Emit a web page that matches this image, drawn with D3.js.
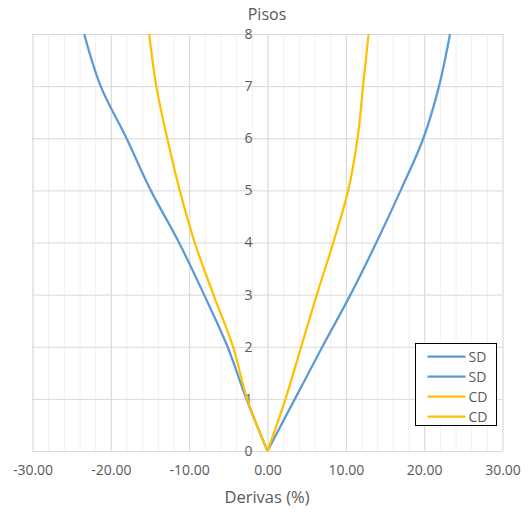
<!DOCTYPE html>
<html>
<head>
<meta charset="utf-8">
<script src="https://cdn.jsdelivr.net/npm/d3@7"></script>
<style>
  html, body { margin: 0; padding: 0; background: #fff; }
  svg { display: block; }
  text { font-family: "Open Sans", "Noto Sans", sans-serif; fill: #595959; }
</style>
</head>
<body>
<svg id="chart" width="528" height="514"></svg>
<script>
// Storey levels and inter-storey drift (%) per direction
const floors = [0, 1, 2, 3, 4, 5, 6, 7, 8];
const sdPos = [0, 3.5, 7.0, 10.6, 13.9, 17.0, 19.9, 21.9, 23.3];
const sdNeg = [0, -2.7, -5.1, -8.1, -11.3, -14.9, -18.0, -21.3, -23.4];
const cdPos = [0, 2.3, 4.3, 6.3, 8.4, 10.3, 11.5, 12.2, 12.9];
const cdNeg = [0, -2.6, -4.4, -6.9, -9.3, -11.2, -12.8, -14.2, -15.1];

const xTicks = [-30, -20, -10, 0, 10, 20, 30];
const xMinorTicks = d3.range(-30, 30.01, 2);
const yTicks = [0, 1, 2, 3, 4, 5, 6, 7, 8];

const seriesNames = ["SD", "SD", "CD", "CD"];
const seriesValues = [sdPos, sdNeg, cdPos, cdNeg];
const seriesColors = ["#5b9bd5", "#5b9bd5", "#ffc000", "#ffc000"];

const svg = d3.select("#chart");
const plotLeft = 32.5, plotRight = 502.5, plotTop = 34, plotBottom = 451;

const x = d3.scaleLinear().domain([-30, 30]).range([plotLeft, plotRight]);
const y = d3.scaleLinear().domain([0, 8]).range([plotBottom, plotTop]);

// two decimals, plain hyphen for negatives
const fmtX = d => d3.format(".2f")(d).replace("\u2212", "-");

// minor vertical gridlines
svg.append("g")
  .attr("transform", `translate(0,${plotBottom})`)
  .call(d3.axisBottom(x).tickValues(xMinorTicks).tickSize(-(plotBottom - plotTop)).tickFormat(""))
  .call(g => g.select(".domain").remove())
  .call(g => g.selectAll("line").attr("stroke", "#f0f0f0").attr("stroke-width", 1));

// major vertical gridlines
svg.append("g")
  .attr("transform", `translate(0,${plotBottom})`)
  .call(d3.axisBottom(x).tickValues(xTicks).tickSize(-(plotBottom - plotTop)).tickFormat(""))
  .call(g => g.select(".domain").remove())
  .call(g => g.selectAll("line").attr("stroke", "#d9d9d9").attr("stroke-width", 1));

// horizontal gridlines
svg.append("g")
  .attr("transform", `translate(${plotLeft},0)`)
  .call(d3.axisLeft(y).tickValues(yTicks).tickSize(-(plotRight - plotLeft)).tickFormat(""))
  .call(g => g.select(".domain").remove())
  .call(g => g.selectAll("line").attr("stroke", "#d9d9d9").attr("stroke-width", 1));

// x tick labels
svg.append("g")
  .attr("transform", `translate(0,${plotBottom})`)
  .call(d3.axisBottom(x).tickValues(xTicks).tickSize(0).tickPadding(14).tickFormat(fmtX))
  .call(g => g.select(".domain").remove())
  .call(g => g.selectAll("text").attr("font-size", 14).style("font-family", "'Open Sans', sans-serif").attr("fill", "#595959"));

// y tick labels beside the zero line
svg.append("g")
  .attr("transform", `translate(${x(0)},0)`)
  .call(d3.axisLeft(y).tickValues(yTicks).tickSize(0).tickPadding(15).tickFormat(d3.format("d")))
  .call(g => g.select(".domain").remove())
  .call(g => g.selectAll("text").attr("font-size", 14).style("font-family", "'Open Sans', sans-serif").attr("fill", "#595959"));

// drift profiles
const line = d3.line()
  .x(d => x(d[0]))
  .y(d => y(d[1]))
  .curve(d3.curveCatmullRom.alpha(0.5));

seriesValues.forEach((vals, i) => {
  svg.append("path")
    .datum(vals.map((v, k) => [v, floors[k]]))
    .attr("fill", "none")
    .attr("stroke", seriesColors[i])
    .attr("stroke-width", 2.25)
    .attr("stroke-linejoin", "round")
    .attr("d", line);
});

// titles
svg.append("text")
  .attr("x", 267).attr("y", 20)
  .attr("text-anchor", "middle")
  .attr("font-size", 16)
  .text("Pisos");

svg.append("text")
  .attr("x", 267).attr("y", 503)
  .attr("text-anchor", "middle")
  .attr("font-size", 16.5)
  .text("Derivas (%)");

// legend
const lg = svg.append("g").attr("transform", "translate(415.5,343.5)");
lg.append("rect")
  .attr("width", 81).attr("height", 82)
  .attr("fill", "#fff").attr("stroke", "#000").attr("stroke-width", 1);
seriesNames.forEach((name, i) => {
  const yy = 13 + i * 20;
  lg.append("line")
    .attr("x1", 12).attr("x2", 50).attr("y1", yy).attr("y2", yy)
    .attr("stroke", seriesColors[i]).attr("stroke-width", 2.25);
  lg.append("text")
    .attr("x", 53).attr("y", yy + 5)
    .attr("font-size", 14)
    .text(name);
});
</script>
</body>
</html>
